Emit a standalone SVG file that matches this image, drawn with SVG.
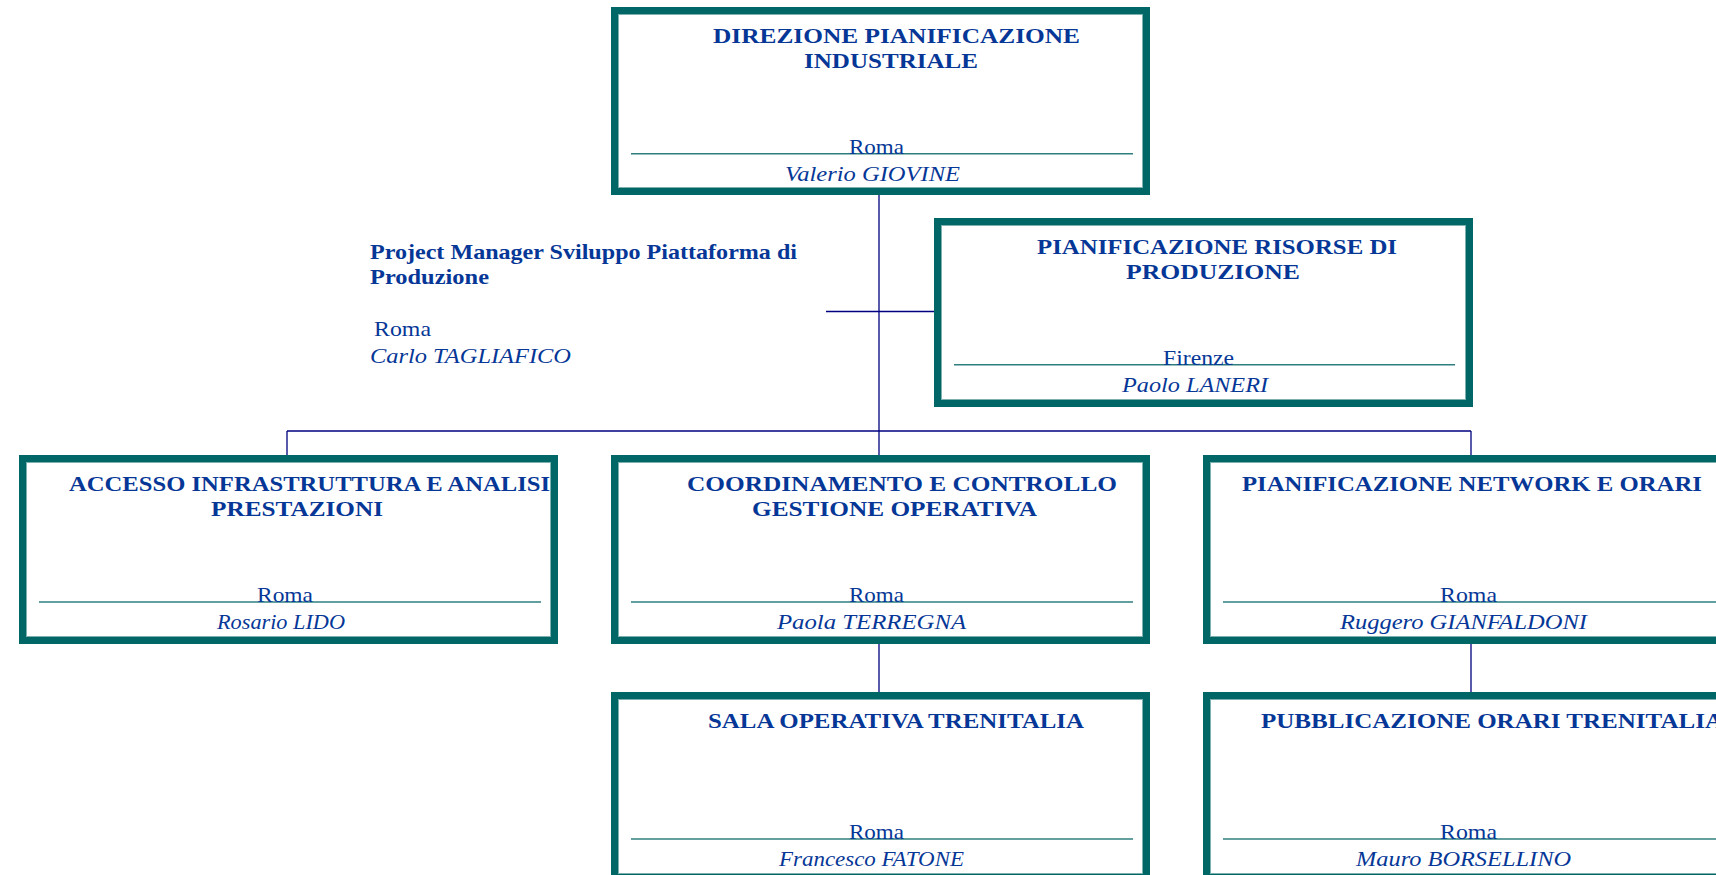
<svg xmlns="http://www.w3.org/2000/svg" width="1716" height="875" viewBox="0 0 1716 875">
<style>
.bg{fill:#ffffff}
.box{fill:#ffffff;stroke:#006666;stroke-width:7}
.inner{fill:none;stroke:#7fb0b0;stroke-width:1}
.sep{stroke:#2f7f7f;stroke-width:1.5}
.con{stroke:#000080;stroke-width:1.3;fill:none}
text{font-family:"Liberation Serif","Times New Roman",serif;fill:#063797;font-size:21px}
.t{font-weight:bold}
.n{font-style:italic}
</style>
<rect class="bg" x="0" y="0" width="1716" height="875"/>
<g id="connectors">
<line class="con" x1="879" y1="195" x2="879" y2="455"/>
<line class="con" x1="826" y1="311.5" x2="934" y2="311.5"/>
<line class="con" x1="287" y1="431" x2="1471" y2="431"/>
<line class="con" x1="287" y1="431" x2="287" y2="455"/>
<line class="con" x1="1471" y1="431" x2="1471" y2="455"/>
<line class="con" x1="879" y1="644" x2="879" y2="692"/>
<line class="con" x1="1471" y1="644" x2="1471" y2="692"/>
</g>
<g id="node-direzione">
<rect class="box" x="614.5" y="10.5" width="532" height="181"/>
<rect class="inner" x="618.5" y="14.5" width="524" height="173"/>
<line class="sep" x1="631" y1="153.7" x2="1133" y2="153.7"/>
<text class="t" x="713" y="43" textLength="367" lengthAdjust="spacingAndGlyphs">DIREZIONE PIANIFICAZIONE</text>
<text class="t" x="804" y="68" textLength="174" lengthAdjust="spacingAndGlyphs">INDUSTRIALE</text>
<text x="849" y="154" textLength="55" lengthAdjust="spacingAndGlyphs">Roma</text>
<text class="n" x="785" y="181" textLength="175" lengthAdjust="spacingAndGlyphs">Valerio GIOVINE</text>
</g>
<g id="node-project-manager">
<text class="t" x="370" y="259" textLength="427" lengthAdjust="spacingAndGlyphs">Project Manager Sviluppo Piattaforma di</text>
<text class="t" x="370" y="284" textLength="119" lengthAdjust="spacingAndGlyphs">Produzione</text>
<text x="374" y="336" textLength="57" lengthAdjust="spacingAndGlyphs">Roma</text>
<text class="n" x="370" y="363" textLength="201" lengthAdjust="spacingAndGlyphs">Carlo TAGLIAFICO</text>
</g>
<g id="node-risorse">
<rect class="box" x="937.5" y="221.5" width="532" height="182"/>
<rect class="inner" x="941.5" y="225.5" width="524" height="174"/>
<line class="sep" x1="954" y1="364.7" x2="1455" y2="364.7"/>
<text class="t" x="1037" y="254" textLength="360" lengthAdjust="spacingAndGlyphs">PIANIFICAZIONE RISORSE DI</text>
<text class="t" x="1126" y="279" textLength="174" lengthAdjust="spacingAndGlyphs">PRODUZIONE</text>
<text x="1163" y="365" textLength="71" lengthAdjust="spacingAndGlyphs">Firenze</text>
<text class="n" x="1122" y="392" textLength="146" lengthAdjust="spacingAndGlyphs">Paolo LANERI</text>
</g>
<g id="node-accesso">
<rect class="box" x="22.5" y="458.5" width="532" height="182"/>
<rect class="inner" x="26.5" y="462.5" width="524" height="174"/>
<line class="sep" x1="39" y1="602" x2="541" y2="602"/>
<text class="t" x="69" y="491" textLength="481" lengthAdjust="spacingAndGlyphs">ACCESSO INFRASTRUTTURA E ANALISI</text>
<text class="t" x="211" y="516" textLength="172" lengthAdjust="spacingAndGlyphs">PRESTAZIONI</text>
<text x="257" y="602" textLength="56" lengthAdjust="spacingAndGlyphs">Roma</text>
<text class="n" x="217" y="629" textLength="128" lengthAdjust="spacingAndGlyphs">Rosario LIDO</text>
</g>
<g id="node-coordinamento">
<rect class="box" x="614.5" y="458.5" width="532" height="182"/>
<rect class="inner" x="618.5" y="462.5" width="524" height="174"/>
<line class="sep" x1="631" y1="602" x2="1133" y2="602"/>
<text class="t" x="687" y="491" textLength="430" lengthAdjust="spacingAndGlyphs">COORDINAMENTO E CONTROLLO</text>
<text class="t" x="752" y="516" textLength="285" lengthAdjust="spacingAndGlyphs">GESTIONE OPERATIVA</text>
<text x="849" y="602" textLength="55" lengthAdjust="spacingAndGlyphs">Roma</text>
<text class="n" x="777" y="629" textLength="189" lengthAdjust="spacingAndGlyphs">Paola TERREGNA</text>
</g>
<g id="node-network">
<rect class="box" x="1206.5" y="458.5" width="532" height="182"/>
<rect class="inner" x="1210.5" y="462.5" width="524" height="174"/>
<line class="sep" x1="1223" y1="602" x2="1725" y2="602"/>
<text class="t" x="1242" y="491" textLength="460" lengthAdjust="spacingAndGlyphs">PIANIFICAZIONE NETWORK E ORARI</text>
<text x="1440" y="602" textLength="57" lengthAdjust="spacingAndGlyphs">Roma</text>
<text class="n" x="1340" y="629" textLength="247" lengthAdjust="spacingAndGlyphs">Ruggero GIANFALDONI</text>
</g>
<g id="node-sala">
<rect class="box" x="614.5" y="695.5" width="532" height="182"/>
<rect class="inner" x="618.5" y="699.5" width="524" height="174"/>
<line class="sep" x1="631" y1="839" x2="1133" y2="839"/>
<text class="t" x="708" y="728" textLength="376" lengthAdjust="spacingAndGlyphs">SALA OPERATIVA TRENITALIA</text>
<text x="849" y="839" textLength="55" lengthAdjust="spacingAndGlyphs">Roma</text>
<text class="n" x="779" y="866" textLength="185" lengthAdjust="spacingAndGlyphs">Francesco FATONE</text>
</g>
<g id="node-pubblicazione">
<rect class="box" x="1206.5" y="695.5" width="532" height="182"/>
<rect class="inner" x="1210.5" y="699.5" width="524" height="174"/>
<line class="sep" x1="1223" y1="839" x2="1725" y2="839"/>
<text class="t" x="1261" y="728" textLength="462" lengthAdjust="spacingAndGlyphs">PUBBLICAZIONE ORARI TRENITALIA</text>
<text x="1440" y="839" textLength="57" lengthAdjust="spacingAndGlyphs">Roma</text>
<text class="n" x="1356" y="866" textLength="215" lengthAdjust="spacingAndGlyphs">Mauro BORSELLINO</text>
</g>
</svg>
